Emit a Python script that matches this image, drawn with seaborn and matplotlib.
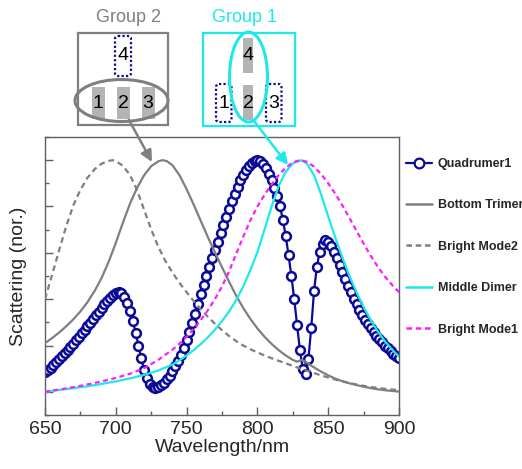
import numpy as np
import pandas as pd
import matplotlib
matplotlib.use("Agg")
import matplotlib.pyplot as plt
import seaborn as sns
from matplotlib.patches import Rectangle, Ellipse, FancyBboxPatch, FancyArrowPatch
from matplotlib.lines import Line2D
from matplotlib.ticker import MultipleLocator

# ---------------- data ----------------
wl_quad = list(range(650, 901, 2))
quadrumer1 = [0.085, 0.095, 0.105, 0.117, 0.130, 0.143, 0.155, 0.168, 0.180, 0.194,
              0.208, 0.222, 0.237, 0.252, 0.267, 0.283, 0.298, 0.314, 0.330, 0.346,
              0.362, 0.378, 0.393, 0.407, 0.419, 0.428, 0.432, 0.425, 0.408, 0.382,
              0.347, 0.305, 0.256, 0.200, 0.145, 0.095, 0.058, 0.035, 0.020, 0.015,
              0.019, 0.028, 0.040, 0.054, 0.070, 0.088, 0.110, 0.134, 0.160, 0.190,
              0.224, 0.260, 0.298, 0.338, 0.380, 0.422, 0.463, 0.502, 0.540, 0.576,
              0.612, 0.648, 0.684, 0.720, 0.755, 0.790, 0.824, 0.856, 0.886, 0.913,
              0.938, 0.958, 0.975, 0.988, 0.997, 1.000, 0.996, 0.985, 0.966, 0.942,
              0.914, 0.882, 0.846, 0.800, 0.742, 0.672, 0.590, 0.500, 0.400, 0.290,
              0.180, 0.100, 0.075, 0.140, 0.275, 0.435, 0.540, 0.605, 0.640, 0.655,
              0.648, 0.628, 0.603, 0.576, 0.547, 0.517, 0.487, 0.457, 0.429, 0.402,
              0.377, 0.354, 0.332, 0.312, 0.293, 0.275, 0.258, 0.242, 0.227, 0.213,
              0.200, 0.188, 0.176, 0.165, 0.154, 0.144]

wl_trimer = [650, 655, 660, 665, 670, 675, 680, 685, 690, 695, 700, 705, 710, 715, 720,
             725, 730, 733, 736, 740, 745, 750, 755, 760, 765, 770, 775, 780, 785, 790,
             795, 800, 805, 810, 815, 820, 825, 828, 831, 834, 838, 842, 846, 850, 855,
             860, 865, 870, 875, 880, 885, 890, 895, 900]
bottom_trimer = [0.210, 0.232, 0.256, 0.283, 0.313, 0.347, 0.387, 0.435, 0.492, 0.562,
                 0.643, 0.730, 0.812, 0.880, 0.935, 0.974, 0.995, 1.000, 0.996, 0.978,
                 0.935, 0.875, 0.808, 0.738, 0.668, 0.602, 0.538, 0.475, 0.415, 0.362,
                 0.315, 0.274, 0.238, 0.207, 0.180, 0.157, 0.138, 0.130, 0.138, 0.130,
                 0.113, 0.098, 0.084, 0.071, 0.057, 0.046, 0.037, 0.029, 0.022, 0.016,
                 0.011, 0.007, 0.004, 0.001]

wl_bm2 = [650, 655, 660, 665, 670, 675, 680, 685, 690, 695, 698, 700, 705, 710, 715, 720,
          725, 730, 735, 740, 745, 750, 755, 760, 765, 770, 775, 780, 785, 790, 795, 800,
          805, 810, 815, 820, 825, 830, 835, 840, 845, 850, 855, 860, 865, 870, 875, 880,
          885, 890, 895, 900]
bright_mode2 = [0.400, 0.505, 0.612, 0.715, 0.805, 0.872, 0.924, 0.961, 0.985, 0.997,
                1.000, 0.996, 0.976, 0.936, 0.871, 0.786, 0.701, 0.626, 0.565, 0.515,
                0.470, 0.430, 0.392, 0.357, 0.324, 0.294, 0.266, 0.241, 0.219, 0.200,
                0.184, 0.170, 0.157, 0.145, 0.134, 0.123, 0.112, 0.101, 0.091, 0.081,
                0.071, 0.062, 0.053, 0.045, 0.038, 0.032, 0.026, 0.021, 0.017, 0.013,
                0.010, 0.008]

wl_dimer = [650, 660, 670, 680, 690, 700, 710, 720, 730, 740, 745, 750, 755, 760, 765,
            770, 775, 780, 785, 790, 795, 800, 805, 810, 815, 820, 825, 831, 835, 840,
            845, 850, 855, 860, 865, 870, 875, 880, 885, 890, 895, 900]
middle_dimer = [0.000, 0.008, 0.016, 0.024, 0.034, 0.045, 0.058, 0.073, 0.092, 0.118,
                0.136, 0.157, 0.180, 0.206, 0.235, 0.268, 0.305, 0.347, 0.396, 0.455,
                0.525, 0.603, 0.700, 0.800, 0.888, 0.950, 0.986, 1.000, 0.985, 0.935,
                0.852, 0.757, 0.666, 0.580, 0.500, 0.430, 0.366, 0.310, 0.261, 0.219,
                0.183, 0.151]

wl_bm1 = [650, 660, 670, 680, 690, 700, 710, 720, 730, 740, 745, 750, 755, 760, 765, 770,
          775, 780, 785, 790, 795, 800, 805, 810, 815, 820, 825, 830, 835, 840, 845, 850,
          855, 860, 865, 870, 875, 880, 885, 890, 895, 900]
bright_mode1 = [0.000, 0.010, 0.020, 0.032, 0.045, 0.060, 0.078, 0.102, 0.138, 0.182,
                0.208, 0.238, 0.272, 0.310, 0.352, 0.400, 0.455, 0.520, 0.595, 0.670,
                0.740, 0.800, 0.850, 0.895, 0.935, 0.968, 0.990, 1.000, 0.993, 0.972,
                0.940, 0.900, 0.855, 0.805, 0.750, 0.695, 0.640, 0.588, 0.540, 0.498,
                0.462, 0.430]

labels = ["Quadrumer1", "Bottom Trimer", "Bright Mode2", "Middle Dimer", "Bright Mode1"]
x_ticks = [650, 700, 750, 800, 850, 900]

# ---------------- style ----------------
sns.set_style("ticks")
plt.rcParams['font.family'] = ['Liberation Sans', 'DejaVu Sans']

NAVY = "#0a0a96"
GRAY = "#7f7f7f"
CYAN = "#1de9e9"
MAGENTA = "#ff1aff"

fig = plt.figure(figsize=(5.22, 4.69), dpi=100)
ax = fig.add_axes([45/522, 1-415/469, (399-45)/522, (415-137)/469])

sns.lineplot(x=wl_quad, y=quadrumer1, ax=ax, color=NAVY, linewidth=1.6,
             marker='o', markersize=6.3, markerfacecolor='white',
             markeredgecolor=NAVY, markeredgewidth=1.8, zorder=2)
sns.lineplot(x=wl_trimer, y=bottom_trimer, ax=ax, color=GRAY, linewidth=1.6, zorder=3)
sns.lineplot(x=wl_bm2, y=bright_mode2, ax=ax, color=GRAY, linewidth=1.6, zorder=3)
ax.lines[-1].set_dashes([2.6, 1.8])
sns.lineplot(x=wl_dimer, y=middle_dimer, ax=ax, color=CYAN, linewidth=1.6, zorder=3)
sns.lineplot(x=wl_bm1, y=bright_mode1, ax=ax, color=MAGENTA, linewidth=1.6, zorder=3)
ax.lines[-1].set_dashes([2.2, 1.6])

ax.set_xlim(650, 900)
ax.set_ylim(-0.1, 1.1)
ax.set_xticks(x_ticks)
ax.xaxis.set_minor_locator(MultipleLocator(25))
ax.set_yticks([0, 0.2, 0.4, 0.6, 0.8, 1.0])
ax.yaxis.set_minor_locator(MultipleLocator(0.1))
ax.set_yticklabels([])
ax.tick_params(axis='both', which='major', direction='in', length=5.5, width=1,
               color='#606060', labelsize=14, pad=4)
ax.tick_params(axis='both', which='minor', direction='in', length=3, width=1,
               color='#606060')
ax.tick_params(top=False, right=False, which='both')
for s in ax.spines.values():
    s.set_color('#606060')
    s.set_linewidth(1.0)
ax.set_xlabel("Wavelength/nm", fontsize=14, labelpad=1)
ax.set_ylabel("Scattering (nor.)", fontsize=14, labelpad=9)

# legend
handles = [
    Line2D([], [], color=NAVY, lw=1.6, marker='o', markersize=7, markerfacecolor='white',
           markeredgewidth=1.6),
    Line2D([], [], color=GRAY, lw=1.8),
    Line2D([], [], color=GRAY, lw=1.8, dashes=[2.2, 1.5]),
    Line2D([], [], color=CYAN, lw=1.8),
    Line2D([], [], color=MAGENTA, lw=1.8, dashes=[2.2, 1.5]),
]
leg = fig.legend(handles, labels, loc='upper left', bbox_to_anchor=(406/522, 1-158/469),
                 frameon=False, borderpad=0, borderaxespad=0, handlelength=2.1,
                 handletextpad=0.45, labelspacing=2.35, numpoints=1,
                 prop={'weight': 'bold', 'size': 9})

# ---------------- schematic overlay ----------------
ov = fig.add_axes([0, 0, 1, 1])
ov.set_xlim(0, 522)
ov.set_ylim(469, 0)
ov.axis('off')
ov.patch.set_alpha(0)

RECT_FILL = "#b4b4b4"
# Group 2
ov.add_patch(Rectangle((78, 33), 90, 92, fill=False, edgecolor=GRAY, lw=1.6))
ov.text(128, 18, "Group 2", color=GRAY, fontsize=13, ha='center', va='center')
for xl in (92, 117, 142):
    ov.add_patch(Rectangle((xl, 87), 13, 32, facecolor=RECT_FILL, edgecolor='none'))
for xc, t in ((98, "1"), (123, "2"), (148, "3")):
    ov.text(xc, 103, t, fontsize=14, ha='center', va='center', color='black')
ov.add_patch(FancyBboxPatch((115, 36), 16, 40, boxstyle="round,pad=0,rounding_size=3",
                            fill=False, edgecolor=NAVY, lw=1.6, linestyle=(0, (1, 1))))
ov.text(123, 56, "4", fontsize=14, ha='center', va='center', color='black')
ov.add_patch(Ellipse((121.5, 100.5), 93, 42, fill=False, edgecolor=GRAY, lw=2.2))

# Group 1
ov.add_patch(Rectangle((203, 33), 92, 93, fill=False, edgecolor=CYAN, lw=1.6))
ov.text(245, 18, "Group 1", color=CYAN, fontsize=13, ha='center', va='center')
for yt in (38, 85):
    ov.add_patch(Rectangle((242.5, yt), 10.5, 35, facecolor=RECT_FILL, edgecolor='none'))
ov.text(248, 55, "4", fontsize=14, ha='center', va='center', color='black')
ov.text(248, 103, "2", fontsize=14, ha='center', va='center', color='black')
for xl, t in ((216, "1"), (266, "3")):
    ov.add_patch(FancyBboxPatch((xl, 84), 15.5, 38, boxstyle="round,pad=0,rounding_size=3",
                                fill=False, edgecolor=NAVY, lw=1.6, linestyle=(0, (1, 1))))
    ov.text(xl + 8, 103, t, fontsize=14, ha='center', va='center', color='black')
ov.add_patch(Ellipse((248.5, 77), 38, 90, fill=False, edgecolor=CYAN, lw=2.2))

# arrows
ov.add_patch(FancyArrowPatch((129, 120), (152, 162), arrowstyle='-|>', mutation_scale=17,
                             color=GRAY, lw=1.8, shrinkA=0, shrinkB=0))
ov.add_patch(FancyArrowPatch((254, 121), (288, 165), arrowstyle='-|>', mutation_scale=17,
                             color=CYAN, lw=1.8, shrinkA=0, shrinkB=0))

fig.savefig("out.png", dpi=100)
